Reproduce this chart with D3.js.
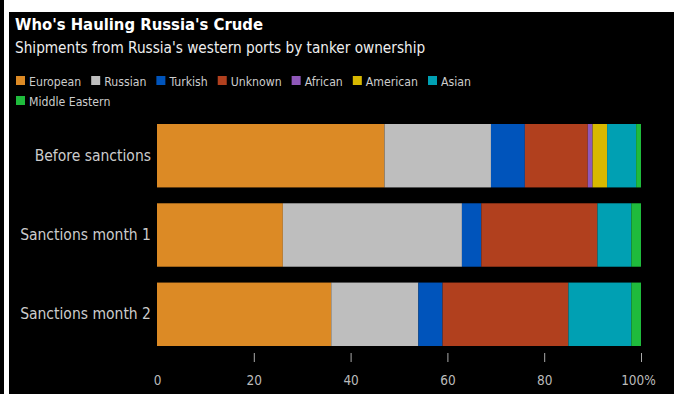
<!DOCTYPE html>
<html>
<head>
<meta charset="utf-8">
<script src="https://cdn.jsdelivr.net/npm/d3@7"></script>
<style>
  body { margin: 0; background: #fff; }
  svg { display: block; }
  text { font-family: "Liberation Sans Narrow", "DejaVu Sans Condensed", "Roboto Condensed", sans-serif; }
</style>
</head>
<body>
<div id="chart"></div>
<script>
// categories and series (share of shipments, %)
var periods = ["Before sanctions", "Sanctions month 1", "Sanctions month 2"];
var owners = ["European", "Russian", "Turkish", "Unknown", "African", "American", "Asian", "Middle Eastern"];
var ownerColors = ["#dc8a25", "#bebebe", "#0054bb", "#b1401e", "#8f58b9", "#d8b800", "#00a0b3", "#1fbb3c"];

var european = [47, 26, 36];
var russian = [22, 37, 18];
var turkish = [7, 4, 5];
var unknown = [13, 24, 26];
var african = [1, 0, 0];
var american = [3, 0, 0];
var asian = [6, 7, 13];
var middleEastern = [1, 2, 2];

var xTicks = [0, 20, 40, 60, 80, 100];

var W = 674, H = 394;
var margin = { top: 124, right: 33, bottom: 48, left: 157 };
var width = W - margin.left - margin.right,
  height = H - margin.top - margin.bottom;

var svg = d3.select("#chart").append("svg")
  .attr("width", W)
  .attr("height", H);

// frame: white page with black panel
svg.append("rect").attr("x", 0).attr("y", 0).attr("width", W).attr("height", H).attr("fill", "#fff");
svg.append("rect").attr("x", 0).attr("y", 0).attr("width", 4).attr("height", H).attr("fill", "#000");
svg.append("rect").attr("x", 9).attr("y", 12).attr("width", W - 9).attr("height", H - 12).attr("fill", "#000");

// titles
svg.append("text")
  .attr("x", 15).attr("y", 30)
  .attr("fill", "#fff")
  .style("font-size", "16.5px")
  .style("font-weight", "bold")
  .text("Who's Hauling Russia's Crude");
svg.append("text")
  .attr("x", 15).attr("y", 53)
  .attr("fill", "#eee")
  .style("font-size", "15.2px")
  .text("Shipments from Russia's western ports by tanker ownership");

// legend, laid out in rows
var legendX = 16, legendY = 76, rowH = 20, maxX = 480;
var lx = legendX, ly = legendY;
owners.forEach(function (name, i) {
  var g = svg.append("g");
  var t = g.append("text")
    .attr("x", lx + 13).attr("y", ly + 9.5)
    .attr("fill", "#ccc")
    .style("font-size", "12.2px")
    .text(name);
  var tw = t.node().getComputedTextLength();
  if (lx + 13 + tw > maxX) {
    lx = legendX; ly += rowH;
    t.attr("x", lx + 13).attr("y", ly + 9.5);
  }
  g.append("rect")
    .attr("x", lx).attr("y", ly)
    .attr("width", 9).attr("height", 9)
    .attr("fill", ownerColors[i]);
  lx += 13 + tw + 10;
});

var plot = svg.append("g")
  .attr("transform", "translate(" + margin.left + "," + margin.top + ")");

var x = d3.scaleLinear().domain([0, 100]).range([0, width]);
var y = d3.scaleBand().domain(periods).range([0, 222]).paddingInner(0.2).paddingOuter(0);

// build stacked table from the series arrays
var seriesVals = [european, russian, turkish, unknown, african, american, asian, middleEastern];
var table = periods.map(function (p, i) {
  var row = { period: p };
  owners.forEach(function (o, j) { row[o] = seriesVals[j][i]; });
  return row;
});
var stacked = d3.stack().keys(owners)(table);

plot.selectAll("g.layer")
  .data(stacked)
  .enter().append("g")
  .attr("class", "layer")
  .attr("fill", function (d, i) { return ownerColors[i]; })
  .selectAll("rect")
  .data(function (d) { return d; })
  .enter().append("rect")
  .attr("x", function (d) { return x(d[0]); })
  .attr("y", function (d) { return y(d.data.period); })
  .attr("width", function (d) { return x(d[1]) - x(d[0]); })
  .attr("height", y.bandwidth());

// category labels
plot.selectAll("text.cat")
  .data(periods)
  .enter().append("text")
  .attr("class", "cat")
  .attr("x", -6)
  .attr("y", function (d) { return y(d) + y.bandwidth() / 2 + 5; })
  .attr("text-anchor", "end")
  .attr("fill", "#ccc")
  .style("font-size", "15.5px")
  .text(function (d) { return d; });

// x axis
var xAxis = plot.append("g")
  .attr("transform", "translate(0," + 229 + ")")
  .call(d3.axisBottom(x).tickValues(xTicks).tickSize(9).tickPadding(13)
    .tickFormat(function (d) { return d === 100 ? "100%" : d; }));
xAxis.select(".domain").remove();
xAxis.selectAll(".tick line")
  .attr("stroke", "#aaa")
  .attr("stroke-width", 1)
  .attr("opacity", function (d) { return d === 0 ? 0 : 1; });
xAxis.selectAll(".tick text")
  .attr("fill", "#bbb")
  .style("font-size", "13.5px")
  .style("font-family", "'Liberation Sans Narrow', 'DejaVu Sans Condensed', sans-serif");
xAxis.selectAll(".tick").filter(function (d) { return d === 100; })
  .select("text")
  .attr("dx", -3);
</script>
</body>
</html>
